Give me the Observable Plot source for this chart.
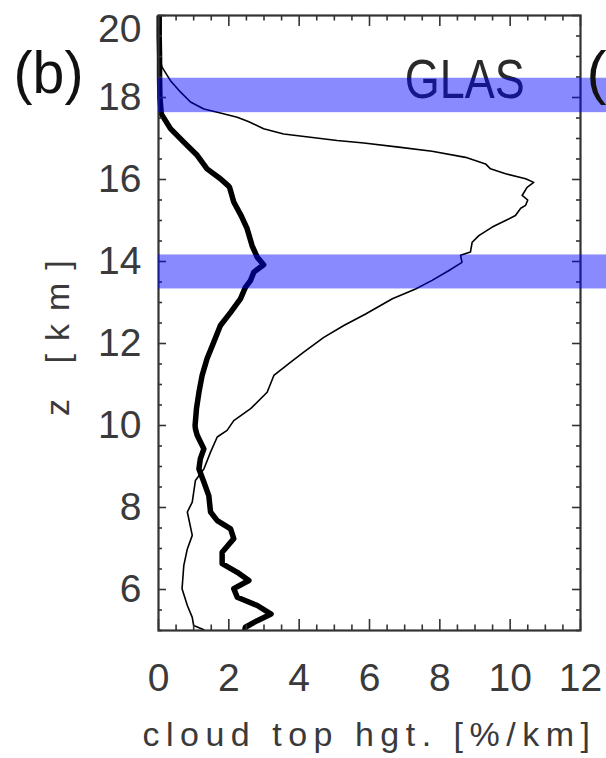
<!DOCTYPE html>
<html>
<head>
<meta charset="utf-8">
<script src="https://cdn.jsdelivr.net/npm/d3@7"></script>
<script src="https://cdn.jsdelivr.net/npm/@observablehq/plot@0.6"></script>
<style>
  html, body { margin: 0; padding: 0; background: #fff; }
  #chart svg { display: block; overflow: hidden; }
</style>
</head>
<body>
<div id="chart"></div>
<script>
// ---- data ----
// thick curve: altitude (km) and cloud top height (%/km)
const thickZ = [20.0, 19.5, 19.0, 18.5, 18.0, 17.6, 17.24, 16.91, 16.59, 16.26, 16.02, 15.85, 15.81, 15.45, 15.10, 14.80, 14.39, 14.10, 13.92, 13.74, 13.54, 13.37, 13.09, 12.76, 12.44, 12.03, 11.63, 11.22, 10.81, 10.41, 10.0, 9.92, 9.76, 9.43, 9.19, 8.94, 8.62, 8.29, 7.89, 7.68, 7.48, 7.24, 6.91, 6.63, 6.42, 6.22, 6.02, 5.81, 5.61, 5.40, 5.24, 5.08, 5.0];
const thickV = [0.02, 0.02, 0.03, 0.03, 0.04, 0.08, 0.34, 0.72, 1.10, 1.38, 1.76, 1.98, 2.02, 2.14, 2.36, 2.52, 2.66, 2.81, 2.99, 2.71, 2.62, 2.47, 2.33, 2.05, 1.76, 1.57, 1.38, 1.24, 1.15, 1.08, 1.04, 1.05, 1.10, 1.29, 1.19, 1.15, 1.29, 1.43, 1.48, 1.67, 2.05, 2.14, 1.81, 1.81, 2.24, 2.57, 2.14, 2.24, 2.81, 3.20, 2.81, 2.47, 2.45];
// thin curve
const thinZ = [20.0, 19.5, 19.0, 18.74, 18.41, 18.13, 17.89, 17.72, 17.62, 17.52, 17.41, 17.24, 17.11, 17.03, 16.95, 16.89, 16.79, 16.69, 16.54, 16.38, 16.26, 16.14, 16.02, 15.93, 15.81, 15.61, 15.50, 15.37, 15.30, 15.12, 15.0, 14.84, 14.63, 14.47, 14.23, 14.15, 13.98, 13.78, 13.54, 13.33, 13.09, 12.72, 12.44, 12.15, 11.79, 11.54, 11.22, 10.81, 10.41, 10.12, 9.88, 9.72, 9.35, 8.94, 8.66, 8.37, 8.13, 7.89, 7.32, 6.99, 6.59, 6.02, 5.61, 5.32, 5.12, 5.02];
const thinV = [0.01, 0.01, 0.03, 0.10, 0.34, 0.63, 0.91, 1.29, 1.76, 2.24, 2.57, 2.99, 3.56, 4.32, 5.08, 5.84, 6.83, 7.78, 8.73, 9.30, 9.44, 9.87, 10.44, 10.67, 10.48, 10.34, 10.50, 10.44, 10.30, 10.15, 9.87, 9.49, 9.11, 8.92, 8.87, 8.59, 8.63, 8.26, 7.78, 7.31, 6.65, 5.89, 5.27, 4.70, 4.13, 3.75, 3.28, 3.09, 2.62, 2.14, 1.95, 1.67, 1.48, 1.29, 1.05, 1.00, 0.96, 0.82, 0.96, 0.82, 0.72, 0.67, 0.82, 0.96, 1.00, 1.29];
// shaded altitude bands (km)
const bandLow  = [17.63, 13.33];
const bandHigh = [18.47, 14.16];
// axis tick labels
const xTickLabels = [0, 2, 4, 6, 8, 10, 12];
const yTickLabels = [6, 8, 10, 12, 14, 16, 18];
const yTopLabel = [20];
const xTitle = "cloud top hgt. [%/km]";
const yTitle = "z [km]";
const panelLabel = "(b)";
const nextPanelLabel = "(";
const annotation = ["GLAS"];
const annotationX = [7];
const annotationY = [18];

// ---- build tables ----
const thick = thickZ.map((z, i) => ({z, v: thickV[i]}));
const thin = thinZ.map((z, i) => ({z, v: thinV[i]}));
const bands = bandLow.map((lo, i) => ({lo, hi: bandHigh[i]}));
const ann = annotation.map((t, i) => ({t, x: annotationX[i], y: annotationY[i]}));

const W = 606, H = 758, mT = 15, mB = 128, mL = 158, mR = 26;
const fh = H - mT - mB, fw = W - mL - mR;
const xMajor = xTickLabels;
const xMinor = d3.range(0, 12.001, 0.5).filter(d => d % 2 !== 0);
const yMajor = [6, 8, 10, 12, 14, 16, 18, 20];
const yMinor = d3.range(5, 20.001, 0.5).filter(d => d % 2 !== 0);
const axisColor = "#333";
const labelColor = "#3a3a3a";
const font = "Liberation Sans, Arial, sans-serif";
const xTL = 11, xTm = 5.5, yTL = 8, yTm = 4;

const plot = Plot.plot({
  width: W, height: H,
  marginTop: mT, marginBottom: mB, marginLeft: mL, marginRight: mR,
  x: {domain: [0, 12], axis: null},
  y: {domain: [5, 20], axis: null},
  style: {fontFamily: font, background: "white"},
  marks: [
    Plot.line(thin, {x: "v", y: "z", stroke: "black", strokeWidth: 1.6, strokeLinejoin: "round"}),
    Plot.line(thick, {x: "v", y: "z", stroke: "black", strokeWidth: 5.5, strokeLinejoin: "round", strokeLinecap: "butt"}),
    Plot.text(ann, {x: "x", y: "y", text: "t", textAnchor: "start", lineAnchor: "bottom", fontSize: 56, fill: "#2a2a2a", fontFamily: font}),
    Plot.frame({stroke: axisColor, strokeWidth: 2.2}),
    // x ticks, bottom and top, pointing inward
    Plot.ruleX(xMajor, {x: d => d, insetTop: fh - xTL, stroke: axisColor, strokeWidth: 1.6}),
    Plot.ruleX(xMinor, {x: d => d, insetTop: fh - xTm, stroke: axisColor, strokeWidth: 1.6}),
    Plot.ruleX(xMajor, {x: d => d, insetBottom: fh - xTL, stroke: axisColor, strokeWidth: 1.6}),
    Plot.ruleX(xMinor, {x: d => d, insetBottom: fh - xTm, stroke: axisColor, strokeWidth: 1.6}),
    // y ticks, left and right, pointing inward
    Plot.ruleY(yMajor, {y: d => d, insetRight: fw - yTL, stroke: axisColor, strokeWidth: 1.6}),
    Plot.ruleY(yMinor, {y: d => d, insetRight: fw - yTm, stroke: axisColor, strokeWidth: 1.6}),
    Plot.ruleY(yMajor, {y: d => d, insetLeft: fw - yTL, stroke: axisColor, strokeWidth: 1.6}),
    Plot.ruleY(yMinor, {y: d => d, insetLeft: fw - yTm, stroke: axisColor, strokeWidth: 1.6}),
    // shaded bands on top
    Plot.rect(bands, {x1: 0, x2: 12.8, y1: "lo", y2: "hi", fill: "blue", fillOpacity: 0.46, clip: false}),
    // tick labels
    Plot.text(xTickLabels, {x: d => d, frameAnchor: "bottom", dy: 33, lineAnchor: "top", text: d => String(d), fontSize: 39, fill: labelColor, fontFamily: font}),
    Plot.text(yTickLabels, {y: d => d, frameAnchor: "left", dx: -17, textAnchor: "end", lineAnchor: "middle", text: d => String(d), fontSize: 39, fill: labelColor, fontFamily: font}),
    Plot.text(yTopLabel, {y: d => d, frameAnchor: "left", dx: -17, dy: 14, textAnchor: "end", lineAnchor: "middle", text: d => String(d), fontSize: 39, fill: labelColor, fontFamily: font}),
    // titles
    Plot.text([xTitle], {frameAnchor: "bottom", dy: 115, lineAnchor: "bottom", text: d => d, fontSize: 34, fill: labelColor, fontFamily: font}),
    Plot.text([yTitle], {frameAnchor: "left", dx: -90, dy: 93, rotate: -90, textAnchor: "start", lineAnchor: "bottom", text: d => d, fontSize: 34, fill: labelColor, fontFamily: font}),
    Plot.text([panelLabel], {frameAnchor: "top-left", dx: -145, dy: 77, textAnchor: "start", lineAnchor: "bottom", text: d => d, fontSize: 60, fill: "#111", fontFamily: font}),
    Plot.text([nextPanelLabel], {frameAnchor: "top-right", dx: 6, dy: 77, textAnchor: "start", lineAnchor: "bottom", text: d => d, fontSize: 60, fill: "#111", fontFamily: font})
  ]
});
document.getElementById("chart").appendChild(plot);

// letter spacing / widths to mimic the original wide plotting font
const svg = d3.select(plot);
svg.selectAll("text").filter(function() { return this.textContent === xTitle; }).attr("letter-spacing", 6.5);
svg.selectAll("text").filter(function() { return this.textContent === yTitle; }).attr("letter-spacing", 13);
svg.selectAll("text").filter(function() { return this.textContent === "GLAS"; })
  .attr("textLength", 120).attr("lengthAdjust", "spacingAndGlyphs");
svg.selectAll("text").filter(function() { return this.textContent === panelLabel; })
  .attr("textLength", 70).attr("lengthAdjust", "spacingAndGlyphs");
</script>
</body>
</html>
